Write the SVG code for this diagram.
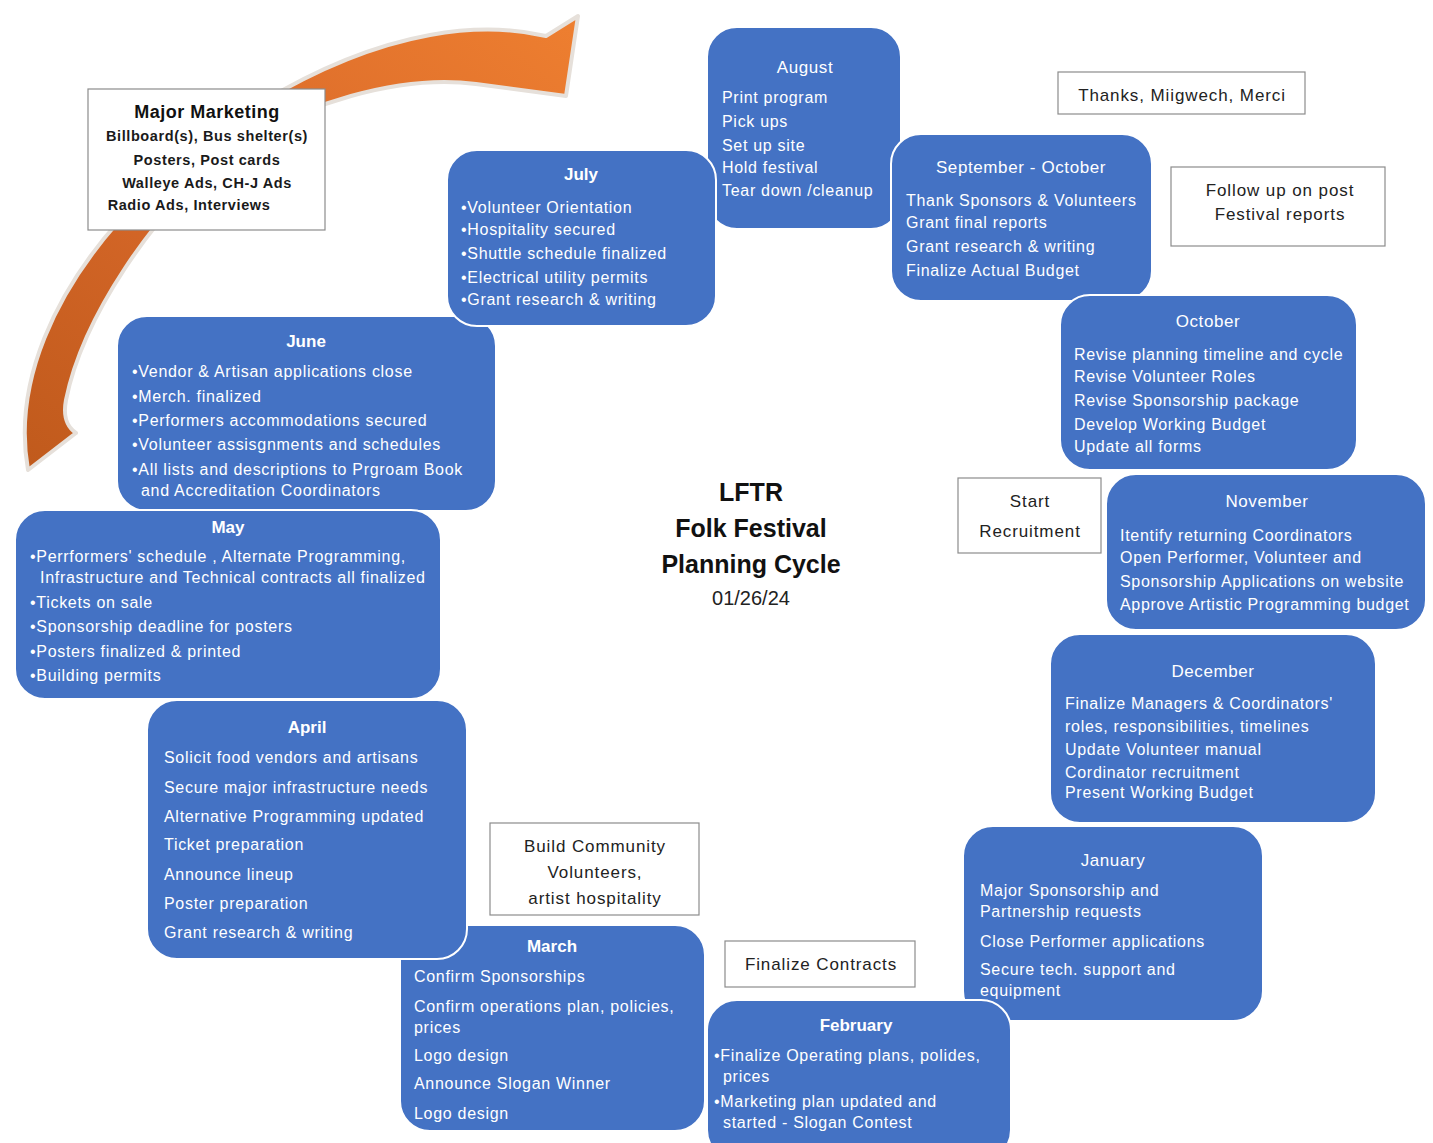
<svg xmlns="http://www.w3.org/2000/svg" width="1433" height="1143" viewBox="0 0 1433 1143">
<defs>
<linearGradient id="og" x1="0" y1="1" x2="1" y2="0">
<stop offset="0" stop-color="#C05A1C"/>
<stop offset="0.5" stop-color="#D9692A"/>
<stop offset="1" stop-color="#EE7F30"/>
</linearGradient>
<style>
.mb{fill:#4472C4;stroke:#fff;stroke-width:2}
.mt{font-family:"Liberation Sans",Arial,sans-serif;font-size:17px;fill:#fff;text-anchor:middle;letter-spacing:0.6px}
.mtb{font-family:"Liberation Sans",Arial,sans-serif;font-size:17px;fill:#fff;text-anchor:middle;font-weight:bold}
.bt{font-family:"Liberation Sans",Arial,sans-serif;font-size:16px;fill:#fff;letter-spacing:0.7px}
.nb{fill:#fff;stroke:#8c8c8c;stroke-width:1.2}
.nt{font-family:"Liberation Sans",Arial,sans-serif;font-size:17px;fill:#222;text-anchor:middle;letter-spacing:0.9px}
.ct{font-family:"Liberation Sans",Arial,sans-serif;font-weight:bold;font-size:25px;fill:#111;text-anchor:middle}
</style>
</defs>
<rect width="1433" height="1143" fill="#fff"/>

<g id="connectors">
<path id="cycle-arrow" d="M 28 470 C 12 380 58 290 118 222 C 190 135 320 55 430 35 C 480 26 520 30 546 36 L 578 16 L 566 96 L 476 84 C 400 74 300 104 232 150 C 152 212 82 320 66 400 C 63 416 66 426 76 433 Z" fill="url(#og)" stroke="#e6e0da" stroke-width="4" stroke-linejoin="round"/>
</g>

<g id="marketing">
<rect class="nb" x="88" y="89" width="237" height="141"/>
<text font-family="Liberation Sans,Arial,sans-serif" font-size="18" font-weight="600" fill="#111" text-anchor="middle" letter-spacing="0.5" x="207" y="118">Major Marketing</text>
<g font-family="Liberation Sans,Arial,sans-serif" font-size="14.5" font-weight="bold" fill="#1a1a1a" text-anchor="middle" letter-spacing="0.6">
<text x="207" y="141">Billboard(s), Bus shelter(s)</text>
<text x="207" y="165">Posters, Post cards</text>
<text x="207" y="188">Walleye Ads, CH-J Ads</text>
<text x="189" y="210">Radio Ads, Interviews</text>
</g>
</g>

<g id="august">
<rect class="mb" x="707" y="27" width="194" height="202" rx="30"/>
<text class="mt" x="805" y="73">August</text>
<text class="bt" x="722" y="103">Print program</text>
<text class="bt" x="722" y="127">Pick ups</text>
<text class="bt" x="722" y="151">Set up site</text>
<text class="bt" x="722" y="173">Hold festival</text>
<text class="bt" x="722" y="196">Tear down /cleanup</text>
</g>

<g id="june">
<rect class="mb" x="117" y="316" width="379" height="195" rx="30"/>
<text class="mtb" x="306" y="347">June</text>
<text class="bt" x="132" y="377">•Vendor &amp; Artisan applications close</text>
<text class="bt" x="132" y="402">•Merch. finalized</text>
<text class="bt" x="132" y="426">•Performers accommodations  secured</text>
<text class="bt" x="132" y="450">•Volunteer assisgnments and schedules</text>
<text class="bt" x="132" y="475">•All lists and descriptions to Prgroam Book</text>
<text class="bt" x="141" y="496">and Accreditation Coordinators</text>
</g>

<g id="july">
<rect class="mb" x="447" y="150" width="269" height="176" rx="30"/>
<text class="mtb" x="581" y="180">July</text>
<text class="bt" x="461" y="213">•Volunteer Orientation</text>
<text class="bt" x="461" y="235">•Hospitality secured</text>
<text class="bt" x="461" y="259">•Shuttle schedule finalized</text>
<text class="bt" x="461" y="283">•Electrical utility permits</text>
<text class="bt" x="461" y="305">•Grant research &amp; writing</text>
</g>

<g id="thanks">
<rect class="nb" x="1058" y="72" width="247" height="42"/>
<text class="nt" x="1182" y="101">Thanks, Miigwech, Merci</text>
</g>

<g id="sep-oct">
<rect class="mb" x="891" y="134" width="261" height="167" rx="30"/>
<text class="mt" x="1021" y="173">September  - October</text>
<text class="bt" x="906" y="206">Thank Sponsors &amp; Volunteers</text>
<text class="bt" x="906" y="228">Grant final reports</text>
<text class="bt" x="906" y="252">Grant research &amp; writing</text>
<text class="bt" x="906" y="276">Finalize Actual Budget</text>
</g>

<g id="follow-up">
<rect class="nb" x="1171" y="167" width="214" height="79"/>
<text class="nt" x="1280" y="196">Follow up on post</text>
<text class="nt" x="1280" y="220">Festival reports</text>
</g>

<g id="october">
<rect class="mb" x="1060" y="295" width="297" height="175" rx="30"/>
<text class="mt" x="1208" y="327">October</text>
<text class="bt" x="1074" y="360">Revise planning timeline and cycle</text>
<text class="bt" x="1074" y="382">Revise Volunteer Roles</text>
<text class="bt" x="1074" y="406">Revise Sponsorship package</text>
<text class="bt" x="1074" y="430">Develop Working Budget</text>
<text class="bt" x="1074" y="452">Update all forms</text>
</g>

<g id="start-recruitment">
<rect class="nb" x="958" y="478" width="143" height="75"/>
<text class="nt" x="1030" y="507">Start</text>
<text class="nt" x="1030" y="537">Recruitment</text>
</g>

<g id="november">
<rect class="mb" x="1106" y="474" width="320" height="156" rx="30"/>
<text class="mt" x="1267" y="507">November</text>
<text class="bt" x="1120" y="541">Itentify returning Coordinators</text>
<text class="bt" x="1120" y="563">Open Performer, Volunteer and</text>
<text class="bt" x="1120" y="587">Sponsorship Applications on website</text>
<text class="bt" x="1120" y="610">Approve Artistic Programming budget</text>
</g>

<g id="january">
<rect class="mb" x="963" y="826" width="300" height="195" rx="30"/>
<text class="mt" x="1113" y="866">January</text>
<text class="bt" x="980" y="896">Major Sponsorship and</text>
<text class="bt" x="980" y="917">Partnership requests</text>
<text class="bt" x="980" y="947">Close Performer applications</text>
<text class="bt" x="980" y="975">Secure tech. support and</text>
<text class="bt" x="980" y="996">equipment</text>
</g>

<g id="december">
<rect class="mb" x="1050" y="634" width="326" height="189" rx="30"/>
<text class="mt" x="1213" y="677">December</text>
<text class="bt" x="1065" y="709">Finalize Managers &amp; Coordinators'</text>
<text class="bt" x="1065" y="732">roles, responsibilities, timelines</text>
<text class="bt" x="1065" y="755">Update Volunteer manual</text>
<text class="bt" x="1065" y="778">Cordinator recruitment</text>
<text class="bt" x="1065" y="798">Present Working Budget</text>
</g>

<g id="may">
<rect class="mb" x="15" y="510" width="426" height="189" rx="30"/>
<text class="mtb" x="228" y="533">May</text>
<text class="bt" x="30" y="562">•Perrformers' schedule , Alternate Programming,</text>
<text class="bt" x="40" y="583">Infrastructure and Technical contracts all finalized</text>
<text class="bt" x="30" y="608">•Tickets on sale</text>
<text class="bt" x="30" y="632">•Sponsorship deadline for posters</text>
<text class="bt" x="30" y="657">•Posters finalized &amp; printed</text>
<text class="bt" x="30" y="681">•Building permits</text>
</g>

<g id="march">
<rect class="mb" x="400" y="925" width="305" height="206" rx="30"/>
<text class="mtb" x="552" y="952">March</text>
<text class="bt" x="414" y="982">Confirm Sponsorships</text>
<text class="bt" x="414" y="1012">Confirm operations plan, policies,</text>
<text class="bt" x="414" y="1033">prices</text>
<text class="bt" x="414" y="1061">Logo design</text>
<text class="bt" x="414" y="1089">Announce Slogan Winner</text>
<text class="bt" x="414" y="1119">Logo design</text>
</g>

<g id="april">
<rect class="mb" x="147" y="700" width="320" height="259" rx="30"/>
<text class="mtb" x="307" y="733">April</text>
<text class="bt" x="164" y="763">Solicit food vendors and artisans</text>
<text class="bt" x="164" y="793">Secure major infrastructure needs</text>
<text class="bt" x="164" y="822">Alternative Programming updated</text>
<text class="bt" x="164" y="850">Ticket preparation</text>
<text class="bt" x="164" y="880">Announce lineup</text>
<text class="bt" x="164" y="909">Poster preparation</text>
<text class="bt" x="164" y="938">Grant research &amp; writing</text>
</g>

<g id="build-community">
<rect class="nb" x="490" y="823" width="209" height="92"/>
<text class="nt" x="595" y="852">Build Community</text>
<text class="nt" x="595" y="878">Volunteers,</text>
<text class="nt" x="595" y="904">artist hospitality</text>
</g>

<g id="finalize-contracts">
<rect class="nb" x="725" y="941" width="190" height="46"/>
<text class="nt" x="821" y="970">Finalize Contracts</text>
</g>

<g id="february">
<rect class="mb" x="707" y="1000" width="304" height="160" rx="30"/>
<text class="mtb" x="856" y="1031">February</text>
<text class="bt" x="714" y="1061">•Finalize Operating plans, polides,</text>
<text class="bt" x="723" y="1082">prices</text>
<text class="bt" x="714" y="1107">•Marketing plan updated and</text>
<text class="bt" x="723" y="1128">started - Slogan Contest</text>
</g>

<g id="title">
<text class="ct" x="751" y="501">LFTR</text>
<text class="ct" x="751" y="537">Folk Festival</text>
<text class="ct" x="751" y="573">Planning Cycle</text>
<text font-family="Liberation Sans,Arial,sans-serif" font-size="20" fill="#222" text-anchor="middle" x="751" y="605">01/26/24</text>
</g>
</svg>
